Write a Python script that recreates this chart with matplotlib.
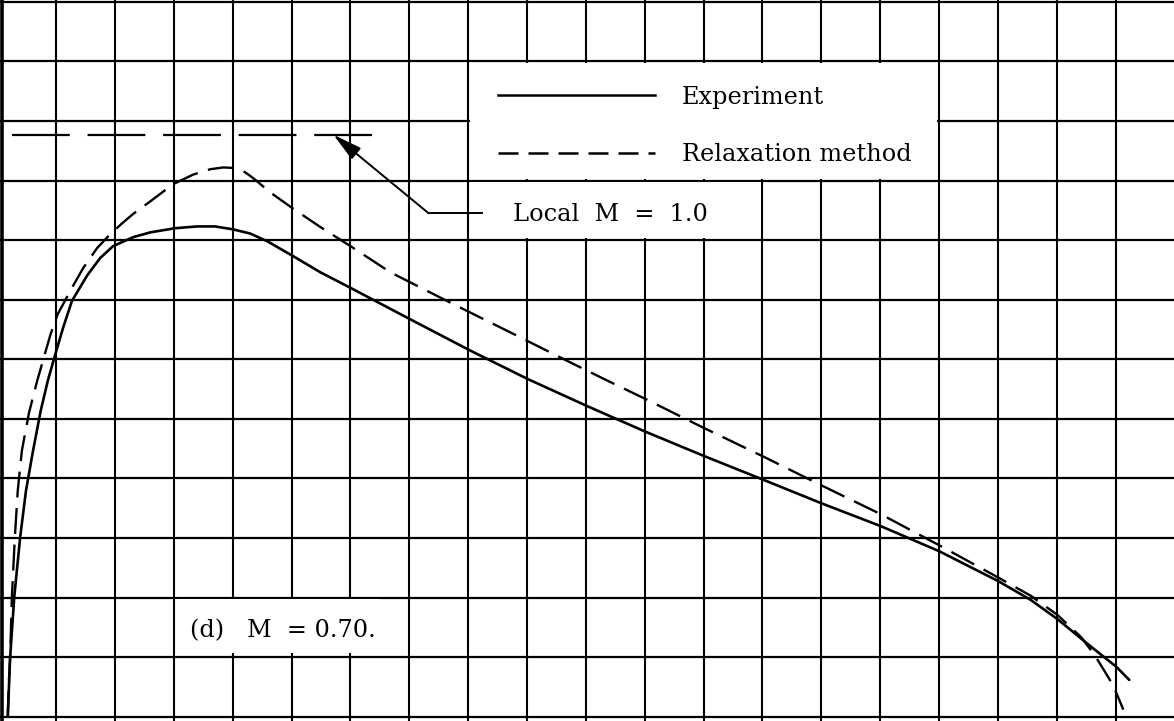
import matplotlib
matplotlib.use("Agg")
import matplotlib.pyplot as plt
from matplotlib.patches import Rectangle

# ---- data (grid units) ----
exp_x = [0.18, 0.22, 0.29, 0.39, 0.49, 0.61, 0.74, 0.86, 0.98, 1.12, 1.27, 1.53,
         1.75, 1.97, 2.31, 2.60, 3.02, 3.40, 3.70, 4.01, 4.30, 4.59, 5.03, 5.49,
         6.00, 7.00, 8.01, 9.01, 10.01, 11.00, 12.00, 13.01, 14.01, 15.01, 16.00,
         17.00, 17.56, 18.01, 18.59, 19.01, 19.23]
exp_y = [0.00, 1.00, 2.01, 3.01, 3.80, 4.47, 5.14, 5.64, 6.06, 6.53, 6.98, 7.41,
         7.70, 7.90, 8.05, 8.13, 8.20, 8.23, 8.23, 8.18, 8.11, 7.98, 7.73, 7.46,
         7.20, 6.68, 6.16, 5.67, 5.22, 4.79, 4.38, 3.98, 3.58, 3.20, 2.78,
         2.28, 1.96, 1.64, 1.17, 0.84, 0.62]

rel_x = [0.18, 0.20, 0.22, 0.25, 0.30, 0.35, 0.42, 0.54, 0.68, 0.81, 0.91, 1.03,
         1.27, 1.46, 1.70, 1.92, 2.12, 2.31, 2.60, 2.99, 3.33, 3.62, 3.84, 4.04,
         4.21, 4.35, 4.64, 5.01, 5.49, 6.00, 6.68, 7.70, 8.70, 9.69, 10.37, 11.00,
         12.00, 13.01, 14.01, 15.01, 16.00, 17.00, 17.56, 18.01, 18.41, 18.64,
         18.87, 18.96, 19.13]
rel_y = [0.00, 0.62, 1.00, 2.01, 3.01, 3.80, 4.47, 5.10, 5.64, 6.09, 6.43, 6.76,
         7.20, 7.53, 7.87, 8.10, 8.28, 8.44, 8.65, 8.94, 9.10, 9.19, 9.22, 9.21,
         9.14, 9.04, 8.80, 8.54, 8.22, 7.90, 7.46, 6.95, 6.46, 5.97, 5.64, 5.34,
         4.85, 4.37, 3.88, 3.40, 2.88, 2.34, 2.03, 1.71, 1.34, 1.04,
         0.67, 0.52, 0.12]

sonic_x = [0.25, 6.37]
sonic_y = [9.77, 9.77]

v_grid = list(range(1, 20))
h_grid = list(range(0, 13))

labels = ["Experiment", "Relaxation method"]
sonic_label = "Local  M  =  1.0"
case_label = "(d)   M  = 0.70."

# ---- figure ----
fig = plt.figure(figsize=(11.74, 7.21), dpi=100)
ax = fig.add_axes([0, 0, 1, 1])
ax.set_xlim(0.048, 19.99)
ax.set_ylim(-0.07, 12.03)
ax.axis("off")

font = dict(family="DejaVu Serif", size=17.3, color="black")

# grid
ax.vlines(v_grid, -0.07, 12.03, colors="black", lw=1.5, zorder=1)
ax.hlines(h_grid, 0.0, 20.0, colors="black", lw=1.6, zorder=1)
ax.vlines([0.075], -0.07, 12.03, colors="black", lw=2.6, zorder=1)

# white boxes behind text
e = 0.03
ax.add_patch(Rectangle((8 + e, 9 + e), 8 - 2 * e, 2 - 2 * e, facecolor="white",
                       edgecolor="none", zorder=2))
ax.add_patch(Rectangle((8 + e, 8 + e), 5 - 2 * e, 1 - 2 * e, facecolor="white",
                       edgecolor="none", zorder=2))
ax.add_patch(Rectangle((3.05, 1.07), 3.45, 0.9, facecolor="white",
                       edgecolor="none", zorder=2))

# curves
ax.plot(exp_x, exp_y, color="black", lw=1.9, solid_capstyle="round",
        solid_joinstyle="round", zorder=3)
ax.plot(rel_x, rel_y, color="black", lw=1.7, ls=(0, (11, 4.5)), zorder=3)
ax.plot(sonic_x, sonic_y, color="black", lw=1.6, ls=(0, (26, 8)), zorder=3)

# legend
ax.plot([8.50, 11.17], [10.44, 10.44], color="black", lw=1.8, zorder=4)
ax.plot([8.50, 11.17], [9.47, 9.47], color="black", lw=1.8, ls=(0, (8, 4)), zorder=4)
ax.text(11.63, 10.29, labels[0], va="baseline", ha="left", zorder=5, **font)
ax.text(11.63, 9.32, labels[1], va="baseline", ha="left", zorder=5, **font)

# sonic annotation
ax.plot([7.33, 8.24], [8.45, 8.45], color="black", lw=1.4, zorder=4)
ax.annotate("", xy=(5.71, 9.77), xytext=(7.33, 8.45),
            arrowprops=dict(arrowstyle="-|>,head_length=0.9,head_width=0.22",
                            lw=1.4, color="black", shrinkA=0, shrinkB=0,
                            mutation_scale=20), zorder=4)
ax.text(8.76, 8.32, sonic_label, va="baseline", ha="left", zorder=5, **font)

# case label
ax.text(3.28, 1.34, case_label, va="baseline", ha="left", zorder=5, **font)

fig.savefig("out.png", dpi=100)
